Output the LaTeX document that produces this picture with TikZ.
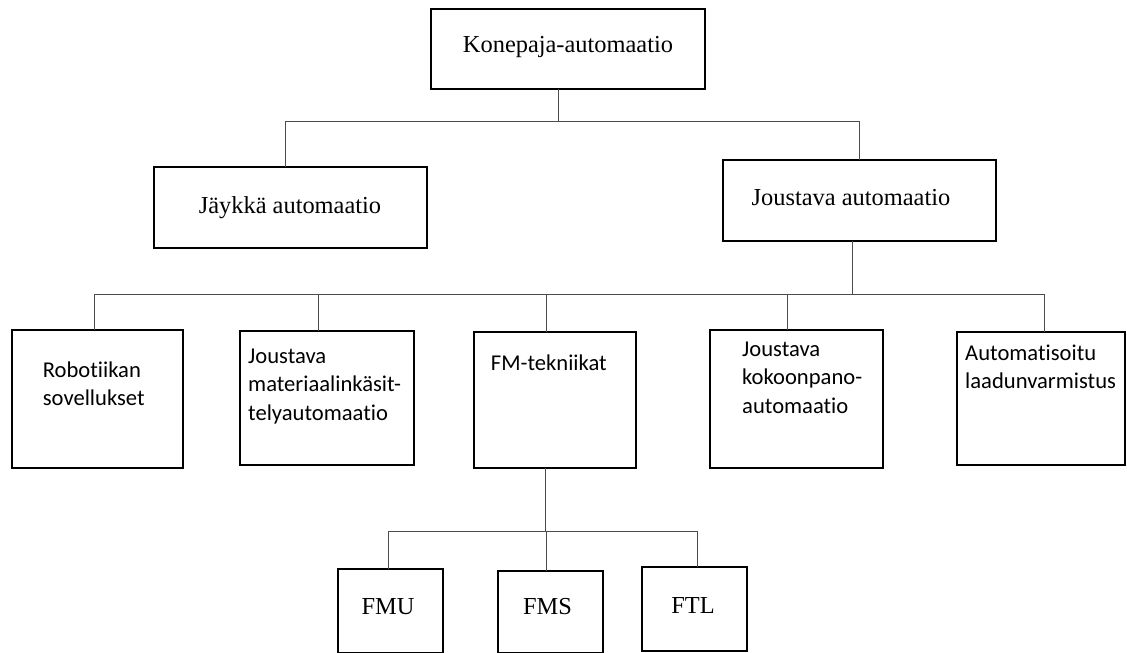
\documentclass[tikz,border=0pt]{standalone}
\usepackage{fontspec}
\setmainfont{Liberation Serif}
\newfontfamily\calibri[Ligatures={NoCommon,NoRare,NoDiscretionary}]{Carlito}
\begin{document}
\begin{tikzpicture}[x=1pt,y=-1pt,
  box/.style={draw=black,line width=2pt,rectangle,inner sep=0pt,outer sep=0pt},
  conn/.style={draw=black!70,line width=0.9pt},
  st/.style={inner sep=0pt,font=\fontsize{24.4}{29}\selectfont},
  sa/.style={inner sep=0pt,align=left,anchor=base west,font=\calibri\fontsize{22.6}{28.5}\selectfont}]
\useasboundingbox (0,0) rectangle (1127,653);
% boxes
\node[box,minimum width=274pt,minimum height=80pt] (top) at (568,49) {};
\node[box,minimum width=273pt,minimum height=81pt] (jay) at (290.5,207.5) {};
\node[box,minimum width=273pt,minimum height=81pt] (jou) at (859.5,200.5) {};
\node[box,minimum width=171pt,minimum height=138pt] (rob) at (97.5,399) {};
\node[box,minimum width=174pt,minimum height=134pt] (mat) at (327,398) {};
\node[box,minimum width=162pt,minimum height=136pt] (fm) at (555,400) {};
\node[box,minimum width=173pt,minimum height=138pt] (kok) at (796.5,399) {};
\node[box,minimum width=168pt,minimum height=133pt] (aut) at (1041,398.5) {};
\node[box,minimum width=105pt,minimum height=84pt] (fmu) at (390.5,611) {};
\node[box,minimum width=105pt,minimum height=82pt] (fms) at (550.5,612) {};
\node[box,minimum width=105pt,minimum height=84pt] (ftl) at (694.5,609) {};
% texts (multi-line nodes anchored at the baseline of their last line)
\node[st,anchor=base] (ttop) at (568,52) {Konepaja-automaatio};
\node[st,anchor=base] (tjay) at (290,213) {Jäykkä automaatio};
\node[st,anchor=base] (tjou) at (851,205) {Joustava automaatio};
\node[sa] (trob) at (42.7,405.5) {Robotiikan\\sovellukset};
\node[sa] (tmat) at (248,420) {Joustava\\materiaalinkäsit-\\telyautomaatio};
\node[sa] (tfm) at (490.7,370.7) {FM-tekniikat};
\node[sa] (tkok) at (742,413) {Joustava\\kokoonpano-\\automaatio};
\node[sa] (taut) at (965,388.5) {Automatisoitu\\laadunvarmistus};
\node[st,anchor=base] (tfmu) at (388,614) {FMU};
\node[st,anchor=base] (tfms) at (547.5,614) {FMS};
\node[st,anchor=base] (tftl) at (693,613) {FTL};
% level 1 connectors
\coordinate (b1) at (558,121);
\coordinate (d1a) at (285,121);
\coordinate (d1b) at (859,121);
\draw[conn] (top.south -| b1) -- (b1);
\draw[conn] (d1a) -- (d1b);
\draw[conn] (d1a) -- (d1a |- jay.north);
\draw[conn] (d1b) -- (d1b |- jou.north);
% level 2 connectors
\coordinate (b2) at (852,294);
\coordinate (d2a) at (94,294);
\coordinate (d2b) at (318,294);
\coordinate (d2c) at (546,294);
\coordinate (d2d) at (787,294);
\coordinate (d2e) at (1044,294);
\draw[conn] (jou.south -| b2) -- (b2);
\draw[conn] (d2a) -- (d2e);
\draw[conn] (d2a) -- (d2a |- rob.north);
\draw[conn] (d2b) -- (d2b |- mat.north);
\draw[conn] (d2c) -- (d2c |- fm.north);
\draw[conn] (d2d) -- (d2d |- kok.north);
\draw[conn] (d2e) -- (d2e |- aut.north);
% level 3 connectors
\coordinate (b3) at (545,531);
\coordinate (d3a) at (388,531);
\coordinate (d3b) at (546,531);
\coordinate (d3c) at (697,531);
\draw[conn] (fm.south -| b3) -- (b3);
\draw[conn] (d3a) -- (d3c);
\draw[conn] (d3a) -- (d3a |- fmu.north);
\draw[conn] (d3b) -- (d3b |- fms.north);
\draw[conn] (d3c) -- (d3c |- ftl.north);
\end{tikzpicture}
\end{document}
